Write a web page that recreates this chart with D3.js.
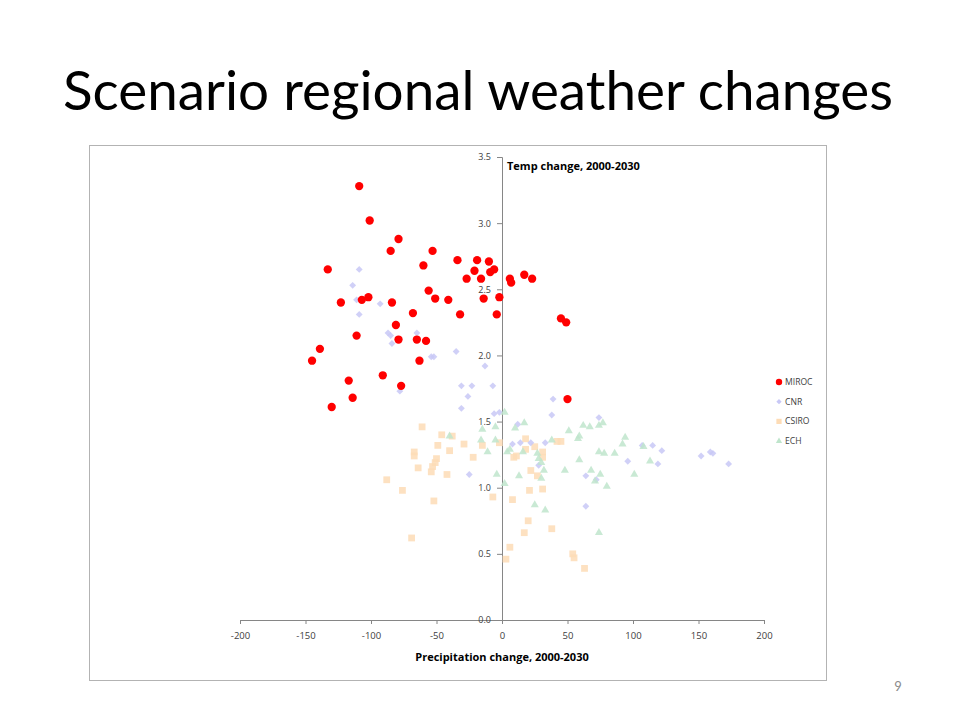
<!DOCTYPE html>
<html lang="en">
<head>
  <meta charset="UTF-8">
  <title>Scenario regional weather changes</title>
  <script src="https://cdn.jsdelivr.net/npm/d3@7/dist/d3.min.js"></script>
  <style>
    body { margin: 0; background: #fff; }
    svg { display: block; }
    .title { font-family: Lato, "Open Sans", sans-serif; font-size: 54.8px; fill: #000; text-anchor: middle; }
    .tick text { font-family: "Open Sans", Arial, sans-serif; font-size: 9px; fill: #404040; }
    .axis-label { font-family: "Open Sans", Arial, sans-serif; font-size: 11px; font-weight: bold; fill: #000; }
    .legend text { font-family: "Open Sans", Arial, sans-serif; font-size: 8.6px; fill: #404040; }
  </style>
</head>
<body>
  <script>
    // precipitation change, temp change
    const miroc = [[-109,3.28],[-101,3.02],[-79,2.88],[-85,2.79],[-53,2.79],[-133,2.65],[-60,2.68],
      [-34,2.72],[-19,2.72],[-10,2.71],[-21,2.64],[-6,2.65],[-9,2.63],[-27,2.58],[-16,2.58],[6,2.58],
      [7,2.55],[17,2.61],[23,2.58],[-56,2.49],[-51,2.43],[-41,2.42],[-14,2.43],[-2,2.44],[-123,2.40],
      [-102,2.44],[-107,2.42],[-84,2.40],[-68,2.32],[-32,2.31],[-4,2.31],[45,2.28],[49,2.25],[-81,2.23],
      [-111,2.15],[-79,2.12],[-65,2.12],[-58,2.11],[-139,2.05],[-145,1.96],[-63,1.96],[-117,1.81],
      [-91,1.85],[-77,1.77],[-114,1.68],[-130,1.61],[50,1.67]];

    const cnr = [[-109,2.65],[-114,2.53],[-111,2.42],[-93,2.39],[-109,2.31],[-87,2.17],[-85,2.15],
      [-65,2.17],[-84,2.09],[-54,1.99],[-52,1.99],[-35,2.03],[-13,1.92],[-31,1.77],[-23,1.77],[-7,1.77],
      [-26,1.69],[-31,1.60],[-78,1.73],[-81,2.24],[-6,1.56],[-2,1.57],[12,1.48],[8,1.33],[14,1.34],
      [22,1.34],[-25,1.10],[28,1.17],[33,1.34],[39,1.67],[38,1.55],[64,1.09],[72,1.06],[64,0.86],
      [74,1.53],[96,1.20],[107,1.32],[115,1.32],[122,1.28],[119,1.18],[152,1.24],[159,1.27],[161,1.26],
      [173,1.18]];

    const csiro = [[-61,1.46],[-46,1.40],[-38,1.39],[-49,1.32],[-40,1.28],[-29,1.33],[-22,1.23],
      [-67,1.27],[-67,1.24],[-50,1.22],[-51,1.19],[-53,1.16],[-64,1.15],[-54,1.12],[-42,1.10],[-88,1.06],
      [-76,0.98],[-52,0.90],[-69,0.62],[-2,1.34],[-15,1.32],[-7,0.93],[9,1.23],[11,1.24],[18,1.37],
      [25,1.31],[18,1.29],[22,1.13],[27,1.09],[21,0.98],[8,0.91],[20,0.75],[17,0.66],[6,0.55],[3,0.46],
      [31,1.27],[31,1.23],[31,0.99],[38,0.69],[42,1.35],[45,1.35],[54,0.50],[55,0.47],[63,0.39]];

    const ech = [[-40,1.39],[-15,1.44],[-16,1.36],[-5,1.36],[-5,1.46],[2,1.57],[-11,1.27],[4,1.27],
      [10,1.45],[17,1.49],[16,1.27],[6,1.29],[-4,1.10],[2,1.03],[13,1.09],[25,0.87],[28,1.22],[27,1.26],
      [30,1.19],[32,1.13],[30,1.07],[33,0.83],[38,1.36],[51,1.43],[58,1.37],[59,1.39],[48,1.13],
      [59,1.21],[62,1.47],[67,1.46],[74,1.47],[77,1.49],[68,1.13],[74,1.27],[78,1.26],[75,1.10],
      [71,1.05],[80,1.01],[74,0.66],[86,1.26],[92,1.33],[94,1.38],[108,1.31],[113,1.20],[101,1.10]];

    const xTicks = [-200, -150, -100, -50, 0, 50, 100, 150, 200];
    const yTicks = [0, 0.5, 1.0, 1.5, 2.0, 2.5, 3.0, 3.5];

    const series = [
      { name: "CSIRO", pts: csiro, shape: d3.symbolSquare, size: 46, color: "#fddcb6" },
      { name: "CNR", pts: cnr, shape: d3.symbolDiamond2, size: 30, color: "#c8c8f6" },
      { name: "ECH", pts: ech, shape: d3.symbolTriangle, size: 28, color: "#bfe5cc" },
      { name: "MIROC", pts: miroc, shape: d3.symbolCircle, size: 54, color: "#ff0000" }
    ];
    const legendOrder = ["MIROC", "CNR", "CSIRO", "ECH"];

    const svg = d3.select("body").append("svg")
      .attr("width", 960).attr("height", 720);

    svg.append("text").attr("class", "title")
      .attr("x", 478).attr("y", 110)
      .text("Scenario regional weather changes");

    svg.append("rect")
      .attr("x", 89.5).attr("y", 145.5)
      .attr("width", 737).attr("height", 535)
      .attr("fill", "#fff").attr("stroke", "#b3b3b3");

    svg.append("text")
      .attr("x", 898).attr("y", 691)
      .attr("text-anchor", "middle")
      .style("font-family", "Lato, sans-serif").style("font-size", "13px").style("fill", "#8c8c8c")
      .text("9");

    const x = d3.scaleLinear().domain([-200, 200]).range([240, 764]);
    const y = d3.scaleLinear().domain([0, 3.5]).range([620, 157]);

    const xAxis = svg.append("g")
      .attr("transform", `translate(0,${y(0)})`)
      .call(d3.axisBottom(x).tickValues(xTicks).tickSize(4).tickPadding(8).tickFormat(d => String(d)));

    const yAxis = svg.append("g")
      .attr("transform", `translate(${x(0)},0)`)
      .call(d3.axisLeft(y).tickValues(yTicks).tickSize(5).tickPadding(6).tickFormat(d3.format(".1f")));

    [xAxis, yAxis].forEach(g => {
      g.select(".domain").attr("stroke", "#868686");
      g.selectAll(".tick line").attr("stroke", "#868686");
      g.selectAll(".tick text").attr("fill", "#404040");
    });
    xAxis.selectAll(".tick text").style("font-size", "9.5px");

    const marks = svg.append("g");
    series.forEach(s => {
      marks.append("g").selectAll("path")
        .data(s.pts)
        .join("path")
        .attr("transform", d => `translate(${x(d[0])},${y(d[1])})`)
        .attr("d", d3.symbol().type(s.shape).size(s.size))
        .attr("fill", s.color)
        .attr("fill-opacity", s.name === "MIROC" ? 1 : 0.85);
    });

    svg.append("text").attr("class", "axis-label")
      .attr("x", x(0)).attr("y", 661)
      .attr("text-anchor", "middle")
      .text("Precipitation change, 2000-2030");

    svg.append("text").attr("class", "axis-label")
      .attr("x", x(0) + 5).attr("y", 170)
      .text("Temp change, 2000-2030");

    const legend = svg.append("g").attr("class", "legend");
    legendOrder.forEach((name, i) => {
      const s = series.find(d => d.name === name);
      const row = legend.append("g")
        .attr("transform", `translate(779,${382 + i * 19.7})`);
      row.append("path")
        .attr("d", d3.symbol().type(s.shape).size(s.size * 0.6))
        .attr("fill", s.color);
      row.append("text").attr("x", 6).attr("y", 3).text(name);
    });
  </script>
</body>
</html>
